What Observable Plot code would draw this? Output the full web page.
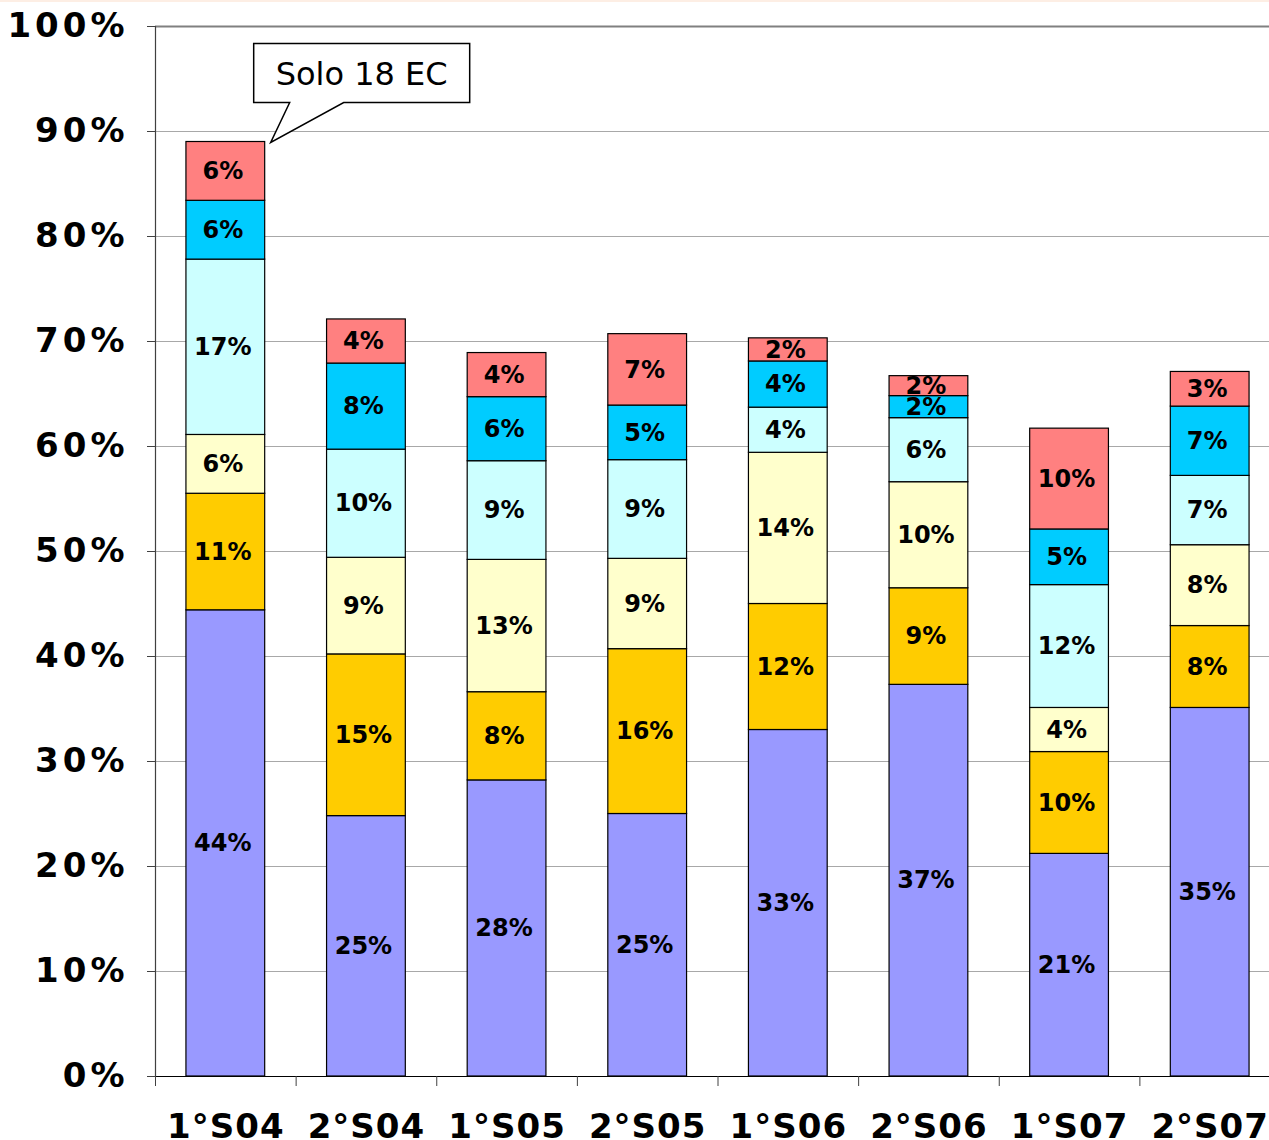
<!DOCTYPE html>
<html><head><meta charset="utf-8">
<script src="https://cdn.jsdelivr.net/npm/d3@7"></script>
<script src="https://cdn.jsdelivr.net/npm/@observablehq/plot@0.6"></script>
<style>
body{margin:0;background:#fff;}
#topline{position:absolute;left:0;top:0;width:1269px;height:2px;background:#fdeee4;}
g[aria-label="y-axis tick label"] text{letter-spacing:4px;}
g[aria-label="x-axis tick label"] text{letter-spacing:1px;}
</style></head><body>
<div id="topline"></div>
<div id="chart"></div>
<script>
// Categories (semesters)
const periods = ["1°S04","2°S04","1°S05","2°S05","1°S06","2°S06","1°S07","2°S07"];
// Stacked series, bottom to top (percent of total)
const seriesNames = ["Serie 1","Serie 2","Serie 3","Serie 4","Serie 5","Serie 6"];
const serie1 = [44.4, 24.8, 28.2, 25.0, 33.0, 37.3, 21.2, 35.1];
const serie2 = [11.1, 15.4,  8.4, 15.7, 12.0,  9.2,  9.7,  7.8];
const serie3 = [ 5.6,  9.2, 12.6,  8.6, 14.4, 10.1,  4.2,  7.7];
const serie4 = [16.7, 10.3,  9.4,  9.4,  4.3,  6.1, 11.7,  6.6];
const serie5 = [ 5.6,  8.2,  6.1,  5.2,  4.4,  2.1,  5.3,  6.6];
const serie6 = [ 5.6,  4.2,  4.2,  6.8,  2.2,  1.9,  9.6,  3.3];
const seriesColors = ["#9999FF","#FFCC00","#FFFFCC","#CCFFFF","#00CCFF","#FF8080"];
const yTicks = [0,10,20,30,40,50,60,70,80,90,100];
const annotationText = "Solo 18 EC";
const annotationPeriod = "1°S04";

const allSeries = [serie1, serie2, serie3, serie4, serie5, serie6];
const rows = [];
periods.forEach((p, i) => {
  allSeries.forEach((s, j) => rows.push({period: p, series: seriesNames[j], value: s[i]}));
});
const totalOf = p => d3.sum(rows.filter(r => r.period === p), r => r.value);

const x0 = 155, x1 = 1280;
const step = (x1 - x0) / periods.length;
const font = "'DejaVu Sans', Verdana, sans-serif";

const chart = Plot.plot({
  width: 1269, height: 1140,
  marginLeft: 155, marginRight: 0, marginTop: 26, marginBottom: 64,
  style: {fontFamily: font, background: "white", color: "black", overflow: "hidden"},
  x: {domain: periods, range: [x0, x1], paddingInner: 0.44, paddingOuter: 0.22, round: false, label: null},
  y: {domain: [0, 100], label: null},
  color: {domain: seriesNames, range: seriesColors},
  marks: [
    Plot.gridY(yTicks.slice(1, -1), {stroke: "#a8a8a8", strokeOpacity: 1, strokeWidth: 1}),
    Plot.ruleY([100], {stroke: "#808080", strokeWidth: 2}),
    Plot.barY(rows, {x: "period", y: "value", z: "series", fill: "series", stroke: "black", strokeWidth: 1.2}),
    Plot.text(rows, Plot.stackY({x: "period", y: "value", z: "series", dx: -3,
      text: d => Math.round(d.value) + "%", fontSize: 24, fontWeight: "bold", fill: "black"})),
    Plot.ruleY([0], {stroke: "black", strokeWidth: 1.2}),
    Plot.frame({anchor: "left", stroke: "#404040", strokeWidth: 1.2}),
    Plot.axisY({ticks: yTicks, tickFormat: d => d + "%", tickSize: 8, tickPadding: 19,
      fontSize: 34, fontWeight: "bold", stroke: "#404040"}),
    Plot.axisX({tickSize: 10, dx: -step / 2, tickFormat: () => "", stroke: "#404040"}),
    Plot.axisX({tickSize: 0, tickPadding: 37, fontSize: 34, fontWeight: "bold"}),
    Plot.dot([{period: annotationPeriod, total: totalOf(annotationPeriod)}], {
      x: "period", y: "total", r: 0,
      render: (index, scales, values, dims) => {
        const bw = typeof scales.x.bandwidth === "function" ? scales.x.bandwidth() : step * 0.56;
        const tipX = scales.x(annotationPeriod) + bw + 6;
        const tipY = scales.y(totalOf(annotationPeriod)) + 1;
        const left = tipX - 17, bottom = tipY - 40, w = 216, h = 59;
        const g = d3.create("svg:g");
        g.append("path")
          .attr("d", `M${left},${bottom - h}H${left + w}V${bottom}H${left + 90}L${tipX},${tipY}L${left + 36},${bottom}H${left}Z`)
          .attr("fill", "white").attr("stroke", "black").attr("stroke-width", 1.5);
        g.append("text")
          .attr("x", left + w / 2).attr("y", bottom - h / 2)
          .attr("text-anchor", "middle").attr("dy", "0.36em")
          .attr("font-size", 32).attr("font-family", font).attr("fill", "black")
          .text(annotationText);
        return g.node();
      }
    })
  ]
});
document.getElementById("chart").append(chart);
</script>
</body></html>
